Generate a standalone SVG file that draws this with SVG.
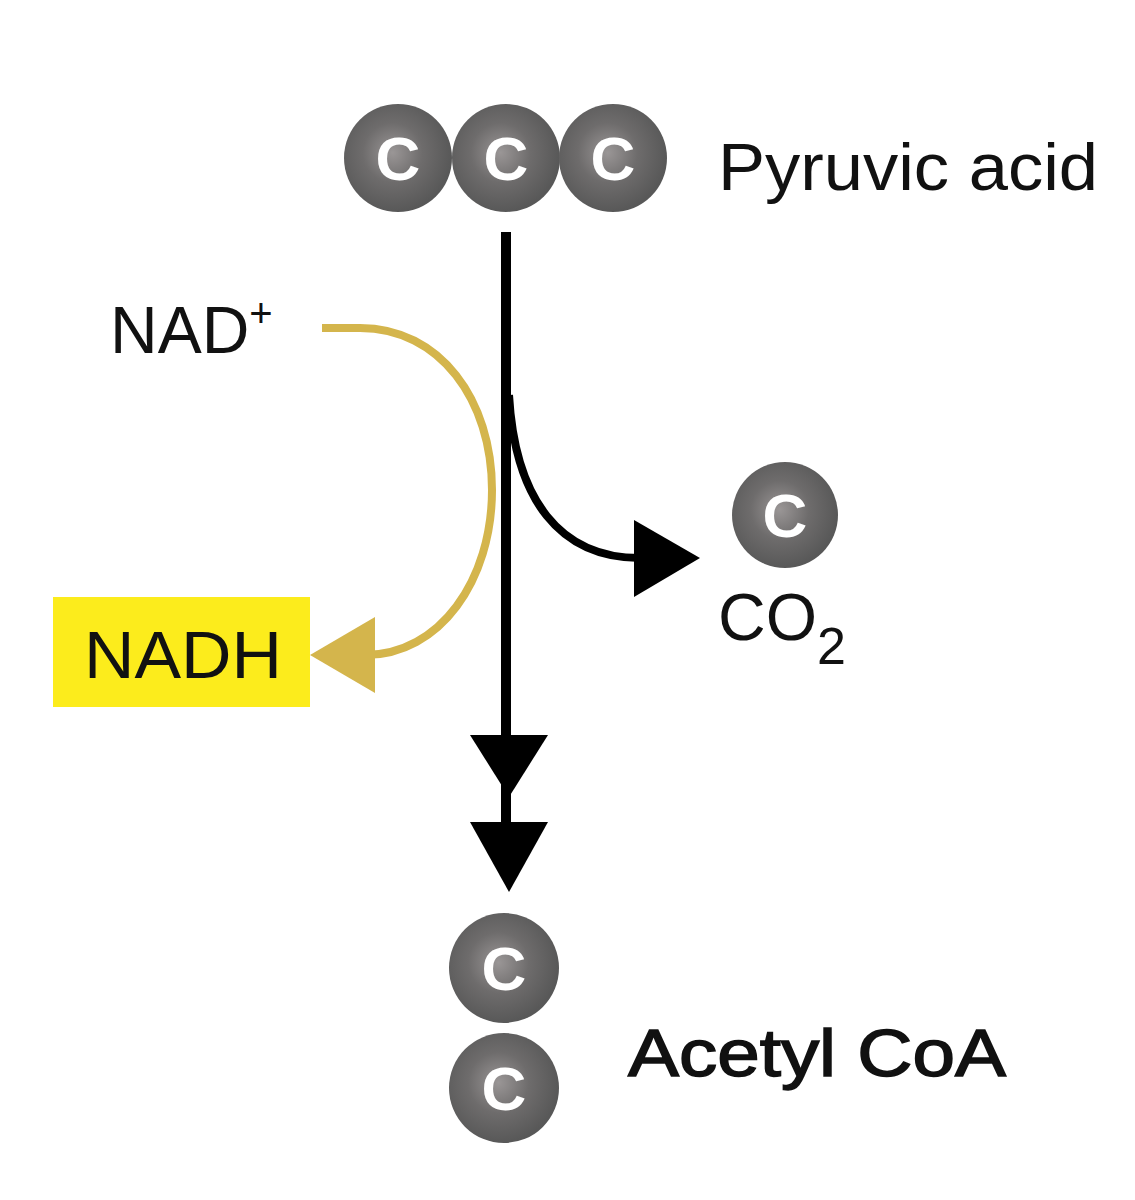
<svg xmlns="http://www.w3.org/2000/svg" width="1135" height="1200" viewBox="0 0 1135 1200">
<style>
text{font-family:"Liberation Sans",Arial,sans-serif;fill:#111}
.c{fill:#fff;font-weight:bold;font-size:62px;text-anchor:middle}
.lbl{font-size:66px}
</style>
<defs>
<radialGradient id="g" cx="0.45" cy="0.45" r="0.55">
<stop offset="0" stop-color="#9a9696"/><stop offset="0.5" stop-color="#6e6c6c"/><stop offset="1" stop-color="#585858"/>
</radialGradient>
</defs>
<rect width="1135" height="1200" fill="#fff"/>
<g id="connectors">
<line x1="506" y1="232" x2="506" y2="830" stroke="#000" stroke-width="10"/>
<polygon points="470,735 548,735 509,797" fill="#000"/>
<polygon points="470,822 548,822 509,892" fill="#000"/>
<path d="M509,395 C515,500 560,558 640,558" fill="none" stroke="#000" stroke-width="8"/>
<polygon points="634,520 634,597 700,558" fill="#000"/>
<path d="M322,328 L360,328 C440,328 492,400 492,490 C492,580 440,655 365,655" fill="none" stroke="#d4b54c" stroke-width="8"/>
<polygon points="310,655 375,617 375,693" fill="#d4b54c"/>
</g>
<g id="pyruvic">
<circle cx="398" cy="158" r="54" fill="url(#g)"/>
<circle cx="506" cy="158" r="54" fill="url(#g)"/>
<circle cx="613" cy="158" r="54" fill="url(#g)"/>
<text class="c" x="398" y="180">C</text><text class="c" x="506" y="180">C</text><text class="c" x="613" y="180">C</text>
<text class="lbl" x="718" y="190" textLength="380" lengthAdjust="spacingAndGlyphs">Pyruvic acid</text>
</g>
<g id="nadplus"><text class="lbl" x="110" y="353">NAD<tspan font-size="40" dy="-26">+</tspan></text></g>
<g id="nadh"><rect x="53" y="597" width="257" height="110" fill="#fcec1c"/><text class="lbl" x="84" y="678" textLength="198" lengthAdjust="spacingAndGlyphs">NADH</text></g>
<g id="co2">
<circle cx="785" cy="515" r="53" fill="url(#g)"/><text class="c" x="785" y="537">C</text>
<text class="lbl" x="718" y="640">CO<tspan font-size="52" dy="24">2</tspan></text>
</g>
<g id="acetyl">
<circle cx="504" cy="968" r="55" fill="url(#g)"/><circle cx="504" cy="1088" r="55" fill="url(#g)"/>
<text class="c" x="504" y="990">C</text><text class="c" x="504" y="1110">C</text>
<text class="lbl" x="628" y="1076" stroke="#111" stroke-width="1.5" textLength="378" lengthAdjust="spacingAndGlyphs">Acetyl CoA</text>
</g>
</svg>
